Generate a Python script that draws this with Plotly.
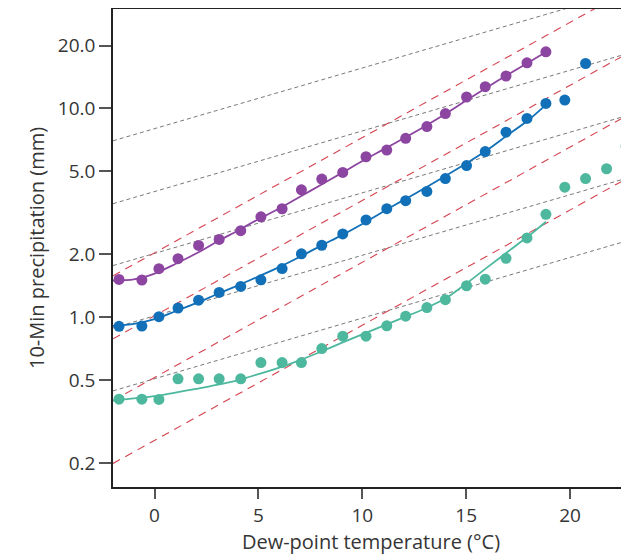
import plotly.graph_objects as go

# ---- data ----
dew_x = [-1.71, -0.61, 0.21, 1.13, 2.12, 3.11, 4.15, 5.12, 6.14, 7.07, 8.05, 9.06,
         10.18, 11.18, 12.09, 13.11, 14.0, 15.02, 15.92, 16.92, 17.93, 18.84,
         19.75, 20.75, 21.76, 22.7]

purple_pts = [1.52, 1.51, 1.71, 1.91, 2.21, 2.36, 2.60, 3.03, 3.31, 4.08, 4.59, 4.94,
              5.87, 6.32, 7.19, 8.19, 9.45, 11.34, 12.71, 14.29, 16.53, 18.65]
blue_pts = [0.906, 0.909, 1.008, 1.108, 1.209, 1.316, 1.406, 1.513, 1.713, 2.014, 2.214,
            2.509, 2.927, 3.314, 3.619, 4.008, 4.617, 5.326, 6.215, 7.698, 8.96, 10.56,
            10.96, 16.40]
teal_pts = [0.406, 0.406, 0.405, 0.508, 0.508, 0.508, 0.508, 0.608, 0.608, 0.608, 0.709,
            0.813, 0.813, 0.911, 1.014, 1.114, 1.216, 1.417, 1.523, 1.917, 2.401, 3.112,
            4.197, 4.617, 5.143, 6.573]

fit_x = [-2, -1, 0, 1, 2, 3, 4, 5, 6, 7, 8, 9, 10, 11, 12, 13, 14, 15, 16, 17, 18, 18.84]
purple_fit = [1.50, 1.52, 1.62, 1.80, 2.02, 2.30, 2.60, 2.95, 3.32, 3.78, 4.30, 4.90,
              5.60, 6.35, 7.20, 8.20, 9.40, 10.9, 12.6, 14.5, 16.6, 18.6]
blue_fit = [0.91, 0.93, 0.98, 1.07, 1.17, 1.29, 1.42, 1.57, 1.74, 1.95, 2.20, 2.47,
            2.80, 3.20, 3.65, 4.15, 4.75, 5.45, 6.30, 7.45, 8.80, 10.4]
teal_fit = [0.40, 0.41, 0.42, 0.437, 0.455, 0.475, 0.50, 0.535, 0.575, 0.625, 0.685, 0.755,
            0.83, 0.91, 1.00, 1.10, 1.23, 1.45, 1.73, 2.06, 2.45, 2.87]

ref_x = [-2, 22.84]
gray_start = [7.0, 3.5, 1.77, 0.89, 0.445]
gray_end = [36.8, 18.4, 9.3, 4.67, 2.34]
red_start = [0.2, 0.4, 0.79, 1.58]
red_end = [4.68, 9.36, 18.5, 37.0]

y_tickvals = [0.2, 0.5, 1.0, 2.0, 5.0, 10.0, 20.0]
y_ticktext = ["0.2", "0.5", "1.0", "2.0", "5.0", "10.0", "20.0"]
x_tickvals = [0, 5, 10, 15, 20]

PURPLE = "#8C45A0"
BLUE = "#1170B8"
TEAL = "#4DB89E"
RED = "#D4434F"
GRAY = "#7A7A7A"

fig = go.Figure()

for s, e in zip(gray_start, gray_end):
    fig.add_trace(go.Scatter(x=ref_x, y=[s, e], mode="lines",
                             line=dict(color=GRAY, width=1, dash="4px,3px"),
                             showlegend=False, hoverinfo="skip"))
for s, e in zip(red_start, red_end):
    fig.add_trace(go.Scatter(x=ref_x, y=[s, e], mode="lines",
                             line=dict(color=RED, width=1.1, dash="8px,6px"),
                             showlegend=False, hoverinfo="skip"))

for fit, col in [(purple_fit, PURPLE), (blue_fit, BLUE), (teal_fit, TEAL)]:
    fig.add_trace(go.Scatter(x=fit_x, y=fit, mode="lines",
                             line=dict(color=col, width=1.8, shape="spline", smoothing=0.8),
                             showlegend=False))

for pts, col in [(purple_pts, PURPLE), (blue_pts, BLUE), (teal_pts, TEAL)]:
    fig.add_trace(go.Scatter(x=dew_x[:len(pts)], y=pts, mode="markers",
                             marker=dict(color=col, size=11, line=dict(width=0)),
                             showlegend=False))

font_family = "Open Sans, Lato, sans-serif"
TXT = "#353535"
# page body adds an 8px margin, so the figure is 8px smaller and offset
fig.update_layout(
    width=621, height=547,
    margin=dict(l=105, r=0, t=1, b=68),
    paper_bgcolor="white", plot_bgcolor="white",
    font=dict(family=font_family, color=TXT, size=18),
    xaxis=dict(
        range=[-2, 22.84], tickvals=x_tickvals,
        showgrid=False, zeroline=False,
        showline=True, linecolor="#222", linewidth=1.5, mirror=True,
        ticks="outside", ticklen=10, tickwidth=1.5, tickcolor="#555",
        ticklabelstandoff=0,
        tickfont=dict(size=19, family=font_family, color=TXT),
        title=dict(text="Dew-point temperature (°C)", standoff=0,
                   font=dict(size=20, family=font_family, color=TXT)),
    ),
    yaxis=dict(
        type="log", range=[-0.8116, 1.4757],
        tickvals=y_tickvals, ticktext=y_ticktext,
        showgrid=False, zeroline=False,
        showline=True, linecolor="#222", linewidth=1.5,
        ticks="outside", ticklen=12, tickwidth=1.5, tickcolor="#555",
        tickfont=dict(size=19, family=font_family, color=TXT),
        title=dict(text="10-Min precipitation (mm)", standoff=8,
                   font=dict(size=20, family=font_family, color=TXT)),
    ),
)

fig.write_html("out.html")
